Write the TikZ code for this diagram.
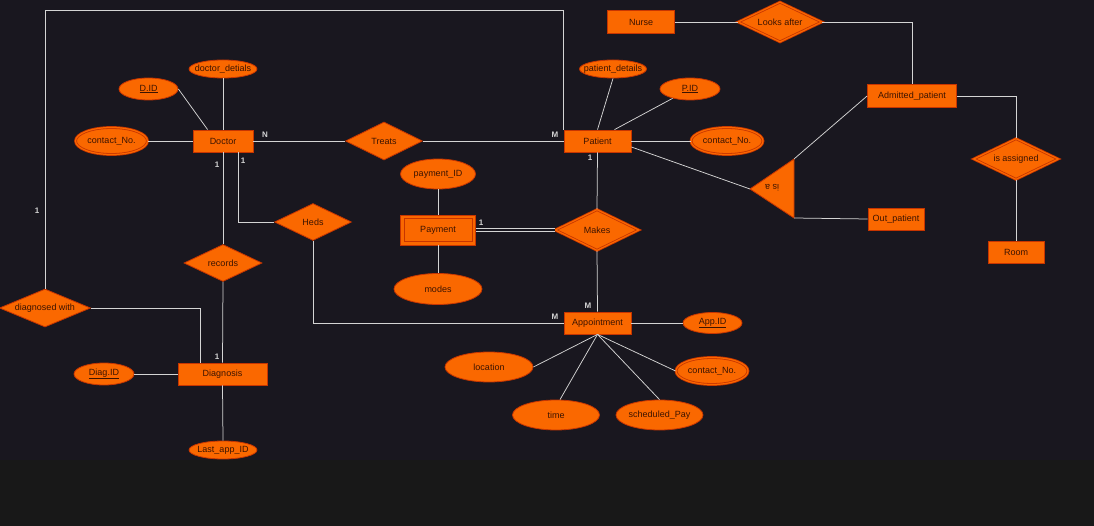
\documentclass[tikz,border=0pt]{standalone}
\usepackage{fontspec}
\setmainfont{Liberation Sans}
\usetikzlibrary{shapes.geometric}
\definecolor{bg}{HTML}{19171F}
\definecolor{bgb}{HTML}{181818}
\definecolor{ofill}{HTML}{FA6800}
\definecolor{ostroke}{HTML}{C73500}
\definecolor{otext}{HTML}{3B1300}
\definecolor{lcol}{HTML}{D4D4D4}
\newcommand{\ztxt}[1]{\makebox[0pt]{#1}}
\begin{document}
\begin{tikzpicture}[x=1pt,y=-1pt,
  font=\fontsize{9}{10}\selectfont,
  sz/.style 2 args={minimum width=#1pt, minimum height=#2pt},
  base/.style={draw=ostroke, fill=ofill, text=otext, inner sep=0pt, line width=0.8pt},
  ent/.style={base, rectangle},
  attr/.style={base, ellipse},
  rel/.style={base, diamond, aspect=2},
  dbl/.style={double=ofill, double distance=1.2pt},
  conn/.style={draw=lcol, line width=0.75pt},
  card/.style={text=lcol, font=\fontsize{8}{9}\selectfont\bfseries, inner sep=0pt},
]
\fill[bg] (0,0) rectangle (1094,460);
\fill[bgb] (0,460) rectangle (1094,526);
\useasboundingbox (0,0) rectangle (1094,526);

% entities and attributes
\node[ent, sz={60}{22}] (doc) at (223,141) {\ztxt{Doctor}};
\node[attr, sz={68}{18}] (ddet) at (223,69) {\ztxt{doctor\_detials}};
\node[attr, sz={59}{22}] (did) at (148.5,89) {\ztxt{\underline{D.ID}}};
\node[attr, dbl, sz={72}{27}] (dcon) at (111.5,141) {\ztxt{contact\_No.}};
\node[rel, sz={77}{38}] (treats) at (384,141) {\ztxt{Treats}};
\node[ent, sz={67}{22}] (pat) at (597.5,141) {\ztxt{Patient}};
\node[attr, sz={67}{18}] (pdet) at (613,69) {\ztxt{patient\_details}};
\node[attr, sz={60}{22}] (pid) at (690,89) {\ztxt{\underline{P.ID}}};
\node[attr, dbl, sz={72}{27}] (pcon) at (727,141) {\ztxt{contact\_No.}};
\node[ent, sz={67}{23}] (nurse) at (641,22) {\ztxt{Nurse}};
\node[rel, dbl, sz={84}{40}] (looks) at (780,22) {\ztxt{Looks after}};
\node[ent, sz={89}{23}] (adm) at (912,96) {\ztxt{Admitted\_patient}};
\node[rel, dbl, sz={85}{41}] (isas) at (1016,159) {\ztxt{is assigned}};
\node[ent, sz={56}{22}] (room) at (1016,252) {\ztxt{Room}};
\node[ent, sz={56}{22}] (outp) at (896,219) {\ztxt{Out\_patient}};
\node[ent, sz={75}{30}] (pay) at (438,230) {\ztxt{Payment}};
\draw[draw=ostroke, line width=0.8pt] ([shift={(4,4)}]pay.north west) rectangle ([shift={(-4,-4)}]pay.south east);
\node[attr, sz={75}{30}] (payid) at (438,174) {\ztxt{payment\_ID}};
\node[attr, sz={88}{31}] (modes) at (438,289) {\ztxt{modes}};
\node[rel, dbl, sz={84}{41}] (makes) at (597,230) {\ztxt{Makes}};
\node[rel, sz={77}{37}] (heds) at (313,222) {\ztxt{Heds}};
\node[rel, sz={78}{37}] (rec) at (223,263) {\ztxt{records}};
\node[rel, sz={91}{38}] (dw) at (45,308) {\ztxt{diagnosed with}};
\node[ent, sz={89}{22}] (diag) at (222.5,374) {\ztxt{Diagnosis}};
\node[attr, sz={60}{22}] (diagid) at (104,374) {\ztxt{\underline{Diag.ID}}};
\node[attr, sz={68}{18}] (lastapp) at (223,450) {\ztxt{Last\_app\_ID}};
\node[ent, sz={67}{22}] (app) at (597.5,323) {\ztxt{Appointment}};
\node[attr, sz={59}{21}] (appid) at (712.5,323) {\ztxt{\underline{App.ID}}};
\node[attr, sz={88}{30}] (loc) at (489,367) {\ztxt{location}};
\node[attr, sz={87}{30}] (time) at (556,415) {\ztxt{time}};
\node[attr, sz={87}{30}] (sched) at (659.5,415) {\ztxt{scheduled\_Pay}};
\node[attr, dbl, sz={72}{27}] (acon) at (712,371) {\ztxt{contact\_No.}};

% ISA triangle
\coordinate (isaA) at (750,189);
\coordinate (isaT) at (794,159);
\coordinate (isaB) at (794,218);
\draw[draw=ostroke, fill=ofill, line width=0.8pt] (isaA) -- (isaT) -- (isaB) -- cycle;
\node[rotate=180, text=otext, inner sep=0pt] (isatxt) at (772,188) {is a};

% connectors
\draw[conn] (dw.north) -- ++(0,-278) -| (pat.north west);
\draw[conn] (doc.east) -- (treats.west);
\draw[conn] (treats.east) -- (pat.west);
\draw[conn] (dcon.east) -- (doc.west);
\draw[conn] (did.east) -- ([shift={(15,0)}]doc.north west);
\draw[conn] (ddet.south) -- (doc.north);
\draw[conn] (doc.south) -- (rec.north);
\draw[conn] (rec.south) -- (diag.north);
\draw[conn] ([shift={(15,0)}]doc.south) |- (heds.west);
\draw[conn] (heds.south) |- (app.west);
\draw[conn] (dw.east) -| ([shift={(-22,0)}]diag.north);
\draw[conn] (diagid.east) -- (diag.west);
\draw[conn] (diag.south) -- (lastapp.north);
\draw[conn] (pat.north) -- (pdet.south);
\draw[conn] ([shift={(17,0)}]pat.north) -- (pid);
\draw[conn] (pat.east) -- (pcon.west);
\draw[conn] ([shift={(0,6)}]pat.east) -- (isaA);
\draw[conn] (pat.south) -- (makes.north);
\draw[conn] (makes.south) -- (app.north);
\draw[conn, double=bg, double distance=1.6pt] (pay.east) -- (makes.west);
\draw[conn] (payid) -- (pay);
\draw[conn] (pay) -- (modes);
\draw[conn] (isaT) -- (adm.west);
\draw[conn] (isaB) -- (outp.west);
\draw[conn] (nurse.east) -- (looks.west);
\draw[conn] (looks.east) -| (adm.north);
\draw[conn] (adm.east) -| (isas.north);
\draw[conn] (isas.south) -- (room.north);
\draw[conn] (app.east) -- (appid.west);
\draw[conn] (app.south) -- (loc.east);
\draw[conn] (app.south) -- ([shift={(4,0)}]time.north);
\draw[conn] (app.south) -- (sched.north);
\draw[conn] (app.south) -- (acon.west);

% cardinalities
\node[card] (c1) at (265,135) {N};
\node[card] (c2) at (555,135) {M};
\node[card] (c3) at (217,165) {1};
\node[card] (c4) at (243,161) {1};
\node[card] (c5) at (37,211) {1};
\node[card] (c6) at (590,158) {1};
\node[card] (c7) at (481,223) {1};
\node[card] (c8) at (588,306) {M};
\node[card] (c9) at (555,317) {M};
\node[card] (c10) at (217,357) {1};
\end{tikzpicture}
\end{document}
